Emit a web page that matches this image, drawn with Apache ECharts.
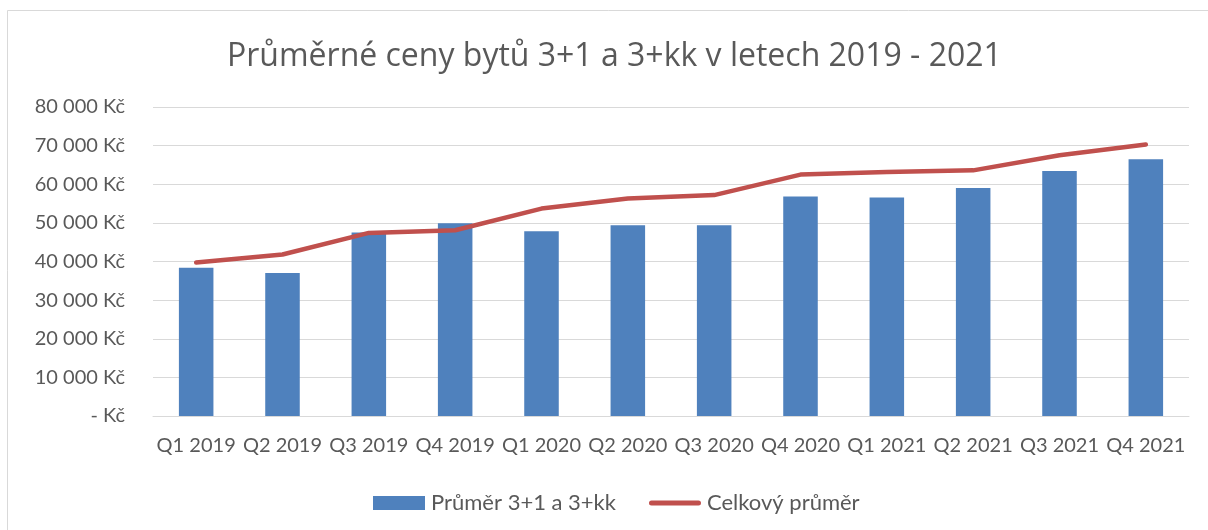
<!DOCTYPE html>
<html>
<head>
<meta charset="utf-8">
<script src="https://cdn.jsdelivr.net/npm/echarts@6/dist/echarts.min.js"></script>
<style>
html,body{margin:0;padding:0;background:#fff;}
#chart{width:1208px;height:530px;}
</style>
</head>
<body>
<div id="chart"></div>
<script>
const categories = ['Q1 2019','Q2 2019','Q3 2019','Q4 2019','Q1 2020','Q2 2020','Q3 2020','Q4 2020','Q1 2021','Q2 2021','Q3 2021','Q4 2021'];
const barValues = [38350, 37000, 47500, 49900, 47800, 49400, 49400, 56800, 56600, 59000, 63400, 66500];
const lineValues = [39750, 41800, 47400, 48100, 53700, 56300, 57200, 62500, 63200, 63600, 67500, 70300];
const barName = 'Průměr 3+1 a 3+kk';
const lineName = 'Celkový průměr';
const titleText = 'Průměrné ceny bytů 3+1 a 3+kk v letech 2019 - 2021';

const chart = echarts.init(document.getElementById('chart'));
function fmt(v){
  if (v === 0) return '- Kč';
  return String(v).replace(/\B(?=(\d{3})+(?!\d))/g, ' ') + ' Kč';
}
chart.setOption({
  animation: false,
  backgroundColor: '#fff',
  graphic: [{
    type: 'rect', silent: true, z: -1,
    shape: {x: 7.5, y: 10.5, width: 1300, height: 600},
    style: {fill: 'none', stroke: '#d9d9d9', lineWidth: 1}
  }],
  title: {
    text: titleText, left: 222, top: 36,
    textStyle: {fontFamily: 'Open Sans', fontSize: 32, fontWeight: 'normal', color: '#595959'}
  },
  legend: {
    bottom: 11, left: 368, itemGap: 33,
    itemWidth: 52, itemHeight: 14,
    textStyle: {fontFamily: 'Lato', fontSize: 22, color: '#595959', padding: [0, 0, 0, 1]},
    data: [
      {name: barName, icon: 'rect'},
      {name: lineName, icon: 'path://M2.5,0 L49.5,0 A2.5,2.5 0 0 1 49.5,5 L2.5,5 A2.5,2.5 0 0 1 2.5,0 Z', itemStyle: {color: '#C0504D'}}
    ]
  },
  grid: {left: 153, top: 107, width: 1036, height: 309, containLabel: false},
  xAxis: {
    type: 'category', data: categories,
    axisLine: {show: true, lineStyle: {color: '#d9d9d9', width: 1}},
    axisTick: {show: false},
    axisLabel: {interval: 0, margin: 20, fontFamily: 'Lato', fontSize: 20, color: '#595959'}
  },
  yAxis: {
    type: 'value', min: 0, max: 80000, interval: 10000,
    axisLine: {show: false}, axisTick: {show: false},
    splitLine: {lineStyle: {color: '#d9d9d9', width: 1}},
    axisLabel: {formatter: fmt, margin: 28, fontFamily: 'Lato', fontSize: 20, color: '#595959'}
  },
  series: [
    {name: barName, type: 'bar', data: barValues, barWidth: '40%',
     itemStyle: {color: '#4F81BD'}},
    {name: lineName, type: 'line', data: lineValues, symbol: 'none',
     lineStyle: {color: '#C0504D', width: 4.5, cap: 'round', join: 'round'},
     itemStyle: {color: '#C0504D'}, z: 3}
  ]
});
</script>
</body>
</html>
